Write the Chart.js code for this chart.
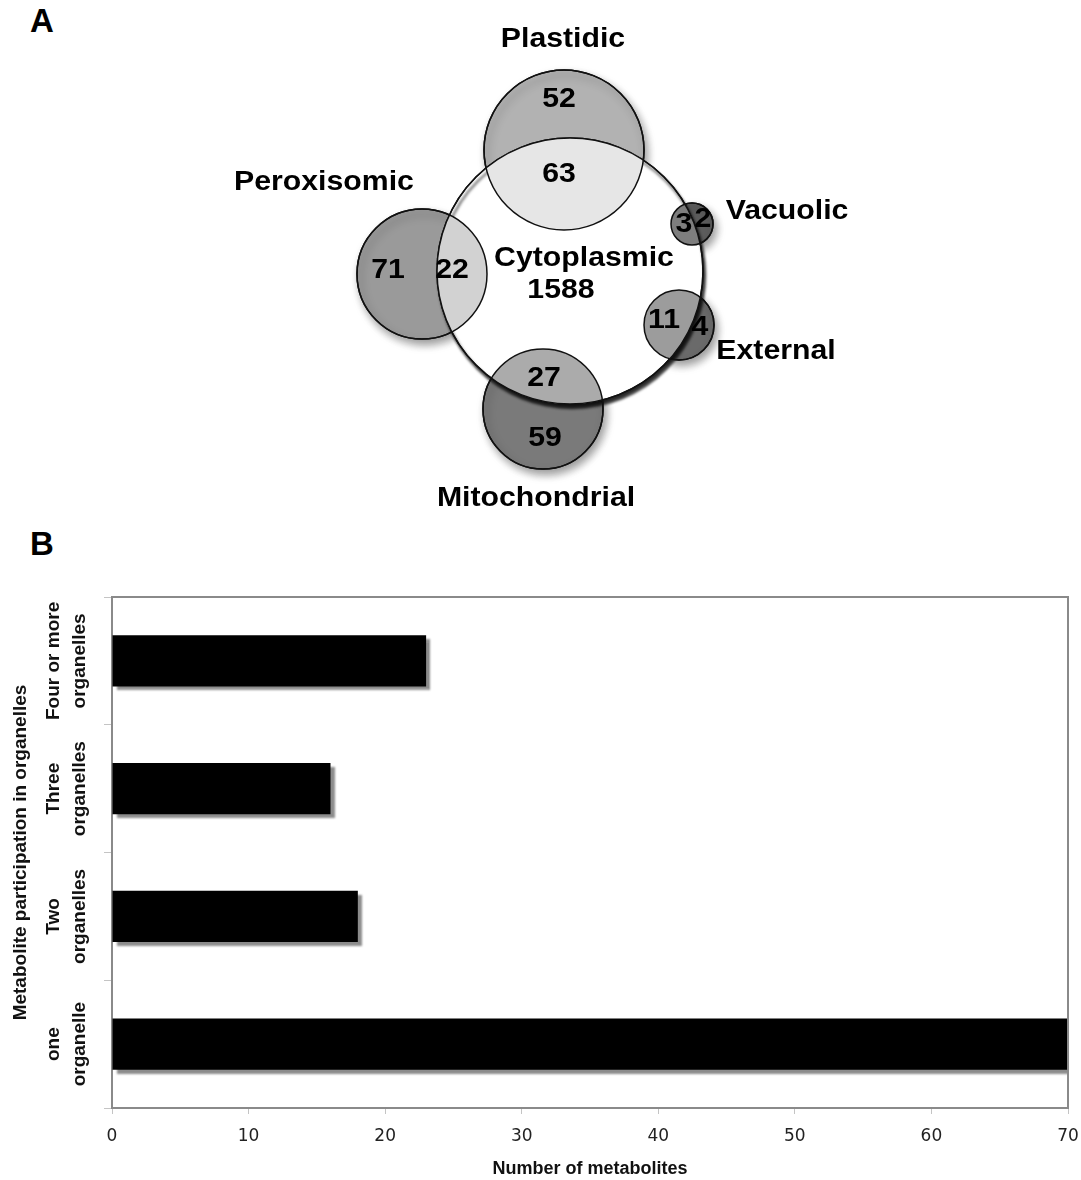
<!DOCTYPE html>
<html>
<head>
<meta charset="utf-8">
<title>Metabolite compartments</title>
<script src="https://cdn.jsdelivr.net/npm/chart.js@4.4.1/dist/chart.umd.min.js"></script>
<style>
  html, body { margin: 0; padding: 0; background: #fff; }
  body { position: relative; width: 1081px; height: 1180px; overflow: hidden; }
  .panel { position: absolute; left: 30px; font: bold 33px 'Liberation Sans', Arial, sans-serif; line-height: 1; color: #000; }
  #vennBox { position: absolute; left: 0; top: 0; }
  #barBox { position: absolute; left: 0; top: 530px; }
</style>
</head>
<body>
<div class="panel" style="top:4px">A</div>
<div class="panel" style="top:527px">B</div>
<div id="vennBox"><canvas id="vennChart" width="1081" height="520"></canvas></div>
<div id="barBox"><canvas id="barChart" width="1081" height="650"></canvas></div>
<script>
// ---- panel A data: compartment sets ----
const cytoName = 'Cytoplasmic';
const cytoOnly = 1588;
const organelles = ['Plastidic', 'Peroxisomic', 'Vacuolic', 'External', 'Mitochondrial'];
const sharedWithCyto = [63, 22, 3, 11, 27];
const organelleOnly = [52, 71, 2, 4, 59];

// ---- panel B data ----
const categories = [['Four or more', 'organelles'], ['Three', 'organelles'], ['Two', 'organelles'], ['one', 'organelle']];
const metaboliteCounts = [23, 16, 18, 70];
const xTickValues = [0, 10, 20, 30, 40, 50, 60, 70];

// ---- layout (venn frame units = page px) ----
const cytoCircle = { x: 570, y: 271, r: 133 };
const organelleCircles = [
    { x: 564, y: 150, r: 80 },
    { x: 422, y: 274, r: 65 },
    { x: 692, y: 224, r: 21 },
    { x: 679, y: 325, r: 35 },
    { x: 543, y: 409, r: 60 }
];
const outerFill = ['#b2b2b2', '#9a9a9a', '#5c5c5c', '#6a6a6a', '#7a7a7a'];
const innerFill = ['#e6e6e6', '#d2d2d2', '#7e7e7e', '#9c9c9c', '#ababab'];
const cytoNamePos = [584, 259];
const cytoCountPos = [561, 291];
const namePos = [[563, 40], [324, 183], [787, 212], [776, 352], [536, 499]];
const sharedPos = [[559, 175], [452, 271], [684, 225], [664, 321], [544, 379]];
const onlyPos = [[559, 100], [388, 271], [703, 220], [700, 328], [545, 439]];

const TXT = '"Liberation Sans", Arial, sans-serif';

function pxRadius(chart, r) {
    const s = chart.scales.x;
    return Math.abs(s.getPixelForValue(r) - s.getPixelForValue(0));
}

// shadows under circles (small ones soft, big one crisp and dark)
const vennShadow = {
    id: 'vennShadow',
    beforeDatasetDraw(chart, args) {
        const c = chart.ctx, k = chart.currentDevicePixelRatio;
        c.save();
        if (args.index === 0) {
            c.shadowColor = 'rgba(0,0,0,0.85)';
            c.shadowOffsetX = 2 * k; c.shadowOffsetY = 4 * k; c.shadowBlur = 3 * k;
        } else {
            c.shadowColor = 'rgba(0,0,0,0.4)';
            c.shadowOffsetX = 3 * k; c.shadowOffsetY = 5 * k; c.shadowBlur = 8 * k;
        }
    },
    afterDatasetDraw(chart) { chart.ctx.restore(); }
};

// lighter fill where an organelle overlaps the cytoplasm, then outlines + text
const vennOverlay = {
    id: 'vennOverlay',
    afterDatasetsDraw(chart) {
        const c = chart.ctx;
        const big = chart.getDatasetMeta(0).data[0];
        const small = chart.getDatasetMeta(1).data;
        c.save();
        c.beginPath();
        c.arc(big.x, big.y, big.options.radius, 0, Math.PI * 2);
        c.clip();
        small.forEach((p, i) => {
            c.beginPath();
            c.arc(p.x, p.y, p.options.radius, 0, Math.PI * 2);
            c.fillStyle = innerFill[i];
            c.fill();
        });
        c.restore();

        c.save();
        c.strokeStyle = '#111';
        c.lineWidth = 1.5;
        [big, ...small].forEach(p => {
            c.beginPath();
            c.arc(p.x, p.y, p.options.radius, 0, Math.PI * 2);
            c.stroke();
        });
        c.restore();

        const xs = chart.scales.x, ys = chart.scales.y;
        const put = (t, pos) => {
            c.save();
            c.translate(xs.getPixelForValue(pos[0]), ys.getPixelForValue(pos[1]));
            c.scale(1.12, 1);
            c.fillText(t, 0, 0);
            c.restore();
        };
        c.save();
        c.font = 'bold 27px ' + TXT;
        c.fillStyle = '#000';
        c.textAlign = 'center';
        c.textBaseline = 'middle';
        put(cytoName, cytoNamePos);
        put(String(cytoOnly), cytoCountPos);
        organelles.forEach((n, i) => {
            put(n, namePos[i]);
            put(String(sharedWithCyto[i]), sharedPos[i]);
            put(String(organelleOnly[i]), onlyPos[i]);
        });
        c.restore();
    }
};

new Chart(document.getElementById('vennChart'), {
    type: 'scatter',
    data: {
        datasets: [
            {
                data: [cytoCircle],
                order: 1,
                pointRadius: c => c.raw ? pxRadius(c.chart, c.raw.r) : 0,
                pointBackgroundColor: '#ffffff',
                pointBorderColor: '#111',
                pointBorderWidth: 1.5
            },
            {
                data: organelleCircles,
                order: 2,
                pointRadius: c => c.raw ? pxRadius(c.chart, c.raw.r) : 0,
                pointBackgroundColor: outerFill,
                pointBorderColor: '#111',
                pointBorderWidth: 1.5
            }
        ]
    },
    options: {
        responsive: false,
        animation: false,
        events: [],
        layout: { padding: 0 },
        plugins: { legend: { display: false }, tooltip: { enabled: false } },
        scales: {
            x: { type: 'linear', min: 0, max: 1081, display: false },
            y: { type: 'linear', min: 0, max: 520, reverse: true, display: false }
        }
    },
    plugins: [vennShadow, vennOverlay]
});

// ---- panel B ----
const barShadow = {
    id: 'barShadow',
    beforeDatasetsDraw(chart) {
        const c = chart.ctx, k = chart.currentDevicePixelRatio;
        c.save();
        c.shadowColor = 'rgba(0,0,0,0.45)';
        c.shadowOffsetX = 4 * k;
        c.shadowOffsetY = 4 * k;
        c.shadowBlur = 2 * k;
    },
    afterDatasetsDraw(chart) { chart.ctx.restore(); }
};

const plotFrame = {
    id: 'plotFrame',
    afterDraw(chart) {
        const { left, top, right, bottom } = chart.chartArea;
        const c = chart.ctx;
        c.save();
        c.strokeStyle = '#8a8a8a';
        c.lineWidth = 2;
        c.beginPath();
        c.moveTo(left, top);
        c.lineTo(right, top);
        c.lineTo(right, bottom);
        c.stroke();
        c.restore();
    }
};

// rotated two-line category names, each line centred on its band
const categoryLabels = {
    id: 'categoryLabels',
    afterDraw(chart) {
        const ys = chart.scales.y, c = chart.ctx;
        const left = chart.chartArea.left;
        c.save();
        c.font = 'bold 19px ' + TXT;
        c.fillStyle = '#111';
        c.textAlign = 'center';
        c.textBaseline = 'middle';
        categories.forEach((lines, i) => {
            const py = ys.getPixelForValue(i);
            lines.forEach((t, j) => {
                c.save();
                c.translate(left - 58 + j * 26, py);
                c.rotate(-Math.PI / 2);
                c.fillText(t, 0, 0);
                c.restore();
            });
        });
        c.restore();
    }
};

new Chart(document.getElementById('barChart'), {
    type: 'bar',
    data: {
        labels: categories,
        datasets: [{
            data: metaboliteCounts,
            backgroundColor: '#000',
            borderWidth: 0,
            barPercentage: 0.4,
            categoryPercentage: 1
        }]
    },
    options: {
        indexAxis: 'y',
        responsive: false,
        animation: false,
        events: [],
        layout: { padding: { top: 67, right: 13, left: 0, bottom: 0 } },
        plugins: { legend: { display: false }, tooltip: { enabled: false } },
        scales: {
            x: {
                min: 0,
                max: 70,
                afterBuildTicks: s => { s.ticks = xTickValues.map(v => ({ value: v })); },
                afterFit: s => { s.height = 72; s.paddingLeft = 0; s.paddingRight = 0; },
                grid: { drawOnChartArea: false, tickLength: 6, color: '#c4c4c4' },
                border: { color: '#8a8a8a', width: 2 },
                ticks: { color: '#222', padding: 12, font: { family: 'DejaVu Sans', size: 17 } },
                title: {
                    display: true,
                    text: 'Number of metabolites',
                    color: '#111',
                    padding: { top: 0, bottom: 0 },
                    font: { family: TXT, size: 18, weight: 'bold' }
                }
            },
            y: {
                afterFit: s => { s.width = 112; },
                grid: { offset: true, drawOnChartArea: false, tickLength: 8, color: '#c4c4c4' },
                border: { color: '#8a8a8a', width: 2 },
                ticks: { display: false },
                title: {
                    display: true,
                    text: 'Metabolite participation in organelles',
                    color: '#111',
                    padding: { top: 9, bottom: 0 },
                    font: { family: TXT, size: 19, weight: 'bold' }
                }
            }
        }
    },
    plugins: [barShadow, plotFrame, categoryLabels]
});
</script>
</body>
</html>
